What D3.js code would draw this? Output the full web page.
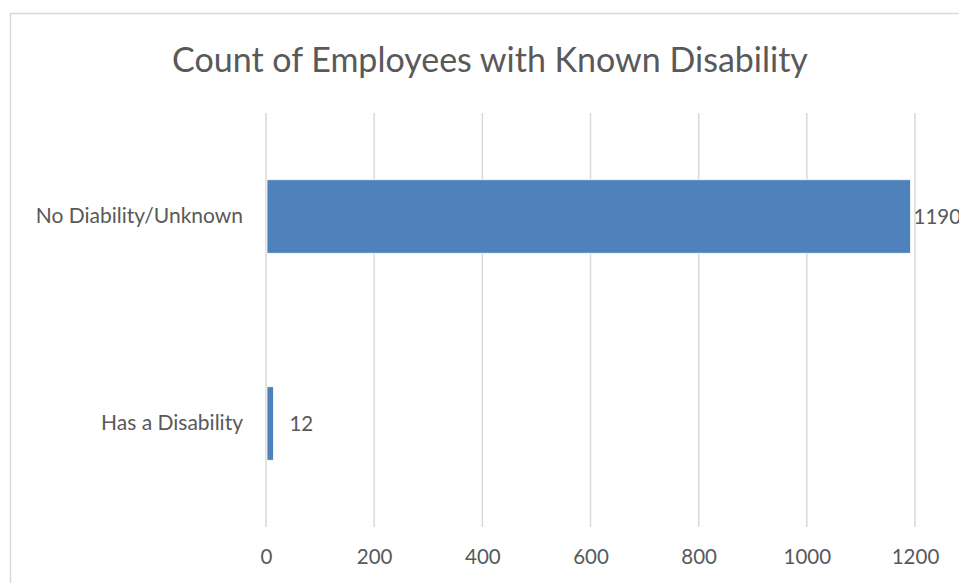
<!DOCTYPE html>
<html>
<head>
<meta charset="utf-8">
<script src="https://cdn.jsdelivr.net/npm/d3@7"></script>
<style>
  body { margin: 0; background: #fff; }
  text { font-family: Lato, "Open Sans", sans-serif; fill: #595959; }
</style>
</head>
<body>
<script>
// chart data
const categories = ["No Diability/Unknown", "Has a Disability"];
const counts = [1190, 12];
const tickValues = [0, 200, 400, 600, 800, 1000, 1200];
const title = "Count of Employees with Known Disability";

const width = 959, height = 583;
const plot = {left: 266, right: 915, top: 113, bottom: 527};

const svg = d3.select("body").append("svg")
  .attr("width", width)
  .attr("height", height);

// chart frame (cut off on the right and bottom in the original)
svg.append("rect")
  .attr("x", 10.5).attr("y", 13.5)
  .attr("width", 970).attr("height", 600)
  .attr("fill", "#fff")
  .attr("stroke", "#d9d9d9")
  .attr("stroke-width", 1.5);

svg.append("text")
  .attr("x", 490).attr("y", 72)
  .attr("text-anchor", "middle")
  .style("font-size", "34px")
  .text(title);

const x = d3.scaleLinear().domain([0, 1200]).range([plot.left, plot.right]);
const y = d3.scaleBand().domain(categories).range([plot.top, plot.bottom]).paddingInner(0.645).paddingOuter(0.3225);

// gridlines
svg.append("g").selectAll("line")
  .data(tickValues)
  .join("line")
  .attr("x1", d => x(d)).attr("x2", d => x(d))
  .attr("y1", plot.top).attr("y2", plot.bottom)
  .attr("stroke", "#d9d9d9")
  .attr("stroke-width", 1.5);

// x axis tick labels
const xAxis = svg.append("g")
  .attr("transform", `translate(0,${plot.bottom})`)
  .call(d3.axisBottom(x).tickValues(tickValues).tickFormat(d3.format("d")).tickSize(0).tickPadding(22));
xAxis.select(".domain").remove();
xAxis.selectAll("text")
  .style("font-size", "20.5px")
  .attr("fill", "#595959");

// category labels
const yAxis = svg.append("g")
  .attr("transform", `translate(${plot.left},0)`)
  .call(d3.axisLeft(y).tickSize(0).tickPadding(23));
yAxis.select(".domain").remove();
yAxis.selectAll("text")
  .style("font-size", "21px")
  .attr("fill", "#595959");

const data = categories.map((c, i) => ({cat: c, value: counts[i]}));

svg.append("g").selectAll("rect")
  .data(data)
  .join("rect")
  .attr("x", x(0) + 1)
  .attr("y", d => y(d.cat))
  .attr("width", d => x(d.value) - x(0))
  .attr("height", y.bandwidth())
  .attr("fill", "#4f81bd")
  .attr("stroke", "#fff")
  .attr("stroke-width", 0.75);

svg.append("g").selectAll("text")
  .data(data)
  .join("text")
  .attr("x", d => x(d.value) + (d.value < 100 ? 17 : 4))
  .attr("y", d => y(d.cat) + y.bandwidth() / 2)
  .attr("dy", "0.35em")
  .style("font-size", "20.5px")
  .attr("fill", "#404040")
  .text(d => d.value);
</script>
</body>
</html>
